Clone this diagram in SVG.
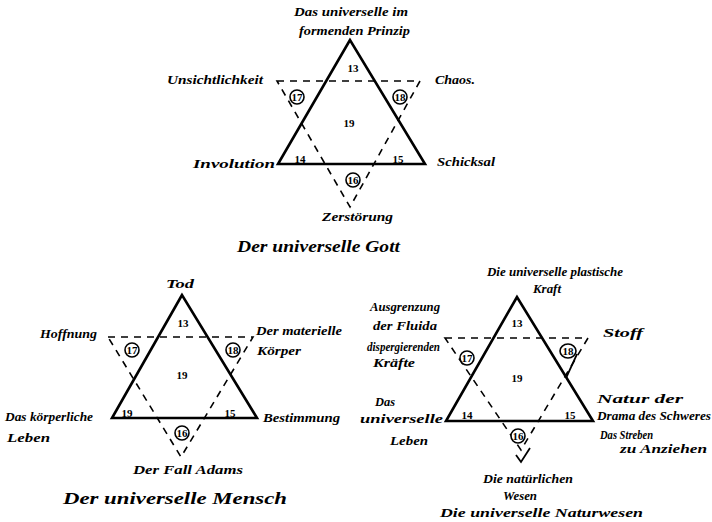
<svg xmlns="http://www.w3.org/2000/svg" width="712" height="522" viewBox="0 0 712 522">
<style>
.tri{fill:none;stroke:#000;stroke-width:2.6;stroke-linejoin:miter}
.dash{fill:none;stroke:#000;stroke-width:1.6;stroke-dasharray:7 6}
.ln{fill:none;stroke:#000;stroke-width:1.8}
.c{fill:#fff;stroke:#000;stroke-width:1.6}
.n{font-family:"Liberation Serif",serif;font-size:11px;font-weight:bold;text-anchor:middle;fill:#000}
.t{font-family:"Liberation Serif",serif;font-style:italic;font-size:12px;font-weight:bold;fill:#000}
.cap{font-family:"Liberation Serif",serif;font-style:italic;font-size:17px;font-weight:bold;fill:#000}
</style>
<rect width="712" height="522" fill="#fff"/>
<g id="connectors">
<polygon class="dash" points="277,81 420,81 350,207"/>
<polygon class="dash" points="108,337 253,337 181,457"/>
<polygon class="dash" points="445,338 588,338 521,450"/>
<line class="ln" x1="577" y1="354" x2="566" y2="378"/>
<polyline class="ln" points="516,455 521,462 530,448"/>
</g>
<g id="god">
<polygon class="tri" points="350,40 278,164 425,164"/>
<text class="n" x="353" y="72">13</text>
<text class="n" x="349" y="127">19</text>
<text class="n" x="300" y="163">14</text>
<text class="n" x="398" y="163">15</text>
<circle class="c" cx="297" cy="97" r="7"/><text class="n" x="297" y="101" font-size="9">17</text>
<circle class="c" cx="400" cy="97" r="7"/><text class="n" x="400" y="101" font-size="9">18</text>
<circle class="c" cx="353" cy="180" r="7"/><text class="n" x="353" y="184" font-size="9">16</text>
<text class="t" x="294" y="16" textLength="114" lengthAdjust="spacingAndGlyphs">Das universelle im</text>
<text class="t" x="299" y="35" textLength="111" lengthAdjust="spacingAndGlyphs">formenden Prinzip</text>
<text class="t" x="167" y="84" textLength="96" lengthAdjust="spacingAndGlyphs">Unsichtlichkeit</text>
<text class="t" x="435" y="84" textLength="40" lengthAdjust="spacingAndGlyphs">Chaos.</text>
<text class="t" x="193" y="168" textLength="82" lengthAdjust="spacingAndGlyphs">Involution</text>
<text class="t" x="437" y="166" textLength="58" lengthAdjust="spacingAndGlyphs">Schicksal</text>
<text class="t" x="322" y="221" textLength="71" lengthAdjust="spacingAndGlyphs">Zerstörung</text>
<text class="cap" x="237" y="252" textLength="163" lengthAdjust="spacingAndGlyphs">Der universelle Gott</text>
</g>
<g id="mensch">
<polygon class="tri" points="182,295 112,418 257,418"/>
<text class="n" x="183" y="327">13</text>
<text class="n" x="182" y="379">19</text>
<text class="n" x="127" y="417">19</text>
<text class="n" x="230" y="417">15</text>
<circle class="c" cx="132" cy="350" r="7"/><text class="n" x="132" y="354" font-size="9">17</text>
<circle class="c" cx="233" cy="350" r="7"/><text class="n" x="233" y="354" font-size="9">18</text>
<circle class="c" cx="182" cy="433" r="7"/><text class="n" x="182" y="437" font-size="9">16</text>
<text class="t" x="166" y="288" textLength="28" lengthAdjust="spacingAndGlyphs">Tod</text>
<text class="t" x="40" y="338" textLength="57" lengthAdjust="spacingAndGlyphs">Hoffnung</text>
<text class="t" x="256" y="335" textLength="86" lengthAdjust="spacingAndGlyphs">Der materielle</text>
<text class="t" x="257" y="355" textLength="44" lengthAdjust="spacingAndGlyphs">Körper</text>
<text class="t" x="5" y="421" textLength="88" lengthAdjust="spacingAndGlyphs">Das körperliche</text>
<text class="t" x="7" y="442" textLength="43" lengthAdjust="spacingAndGlyphs">Leben</text>
<text class="t" x="263" y="422" textLength="77" lengthAdjust="spacingAndGlyphs">Bestimmung</text>
<text class="t" x="133" y="474" textLength="110" lengthAdjust="spacingAndGlyphs">Der Fall Adams</text>
<text class="cap" x="63" y="504" textLength="224" lengthAdjust="spacingAndGlyphs">Der universelle Mensch</text>
</g>
<g id="natur">
<polygon class="tri" points="517,297 446,421 593,421"/>
<text class="n" x="517" y="327">13</text>
<text class="n" x="517" y="382">19</text>
<text class="n" x="467" y="419">14</text>
<text class="n" x="570" y="419">15</text>
<circle class="c" cx="467" cy="358" r="7"/><text class="n" x="467" y="362" font-size="9">17</text>
<ellipse class="c" cx="568" cy="351" rx="8" ry="7"/><text class="n" x="568" y="355" font-size="9">18</text>
<circle class="c" cx="518" cy="436" r="7"/><text class="n" x="518" y="440" font-size="9">16</text>
<text class="t" x="487" y="276" textLength="136" lengthAdjust="spacingAndGlyphs">Die universelle plastische</text>
<text class="t" x="533" y="293" textLength="28" lengthAdjust="spacingAndGlyphs">Kraft</text>
<text class="t" x="370" y="311" textLength="70" lengthAdjust="spacingAndGlyphs">Ausgrenzung</text>
<text class="t" x="373" y="330" textLength="64" lengthAdjust="spacingAndGlyphs">der Fluida</text>
<text class="t" x="367" y="351" textLength="73" lengthAdjust="spacingAndGlyphs">dispergierenden</text>
<text class="t" x="373" y="367" textLength="42" lengthAdjust="spacingAndGlyphs">Kräfte</text>
<text class="t" x="603" y="337" font-size="15" textLength="40" lengthAdjust="spacingAndGlyphs">Stoff</text>
<text class="t" x="375" y="406" textLength="20" lengthAdjust="spacingAndGlyphs">Das</text>
<text class="t" x="360" y="423" textLength="83" lengthAdjust="spacingAndGlyphs">universelle</text>
<text class="t" x="390" y="445" textLength="38" lengthAdjust="spacingAndGlyphs">Leben</text>
<text class="t" x="597" y="403" textLength="86" lengthAdjust="spacingAndGlyphs">Natur der</text>
<text class="t" x="597" y="420" textLength="114" lengthAdjust="spacingAndGlyphs">Drama des Schweres</text>
<text class="t" x="600" y="439" textLength="53" lengthAdjust="spacingAndGlyphs">Das Streben</text>
<text class="t" x="620" y="453" textLength="87" lengthAdjust="spacingAndGlyphs">zu Anziehen</text>
<text class="t" x="483" y="483" textLength="90" lengthAdjust="spacingAndGlyphs">Die natürlichen</text>
<text class="t" x="503" y="500" textLength="34" lengthAdjust="spacingAndGlyphs">Wesen</text>
<text class="t" x="440" y="517" font-size="13" textLength="203" lengthAdjust="spacingAndGlyphs">Die universelle Naturwesen</text>
</g>
</svg>
